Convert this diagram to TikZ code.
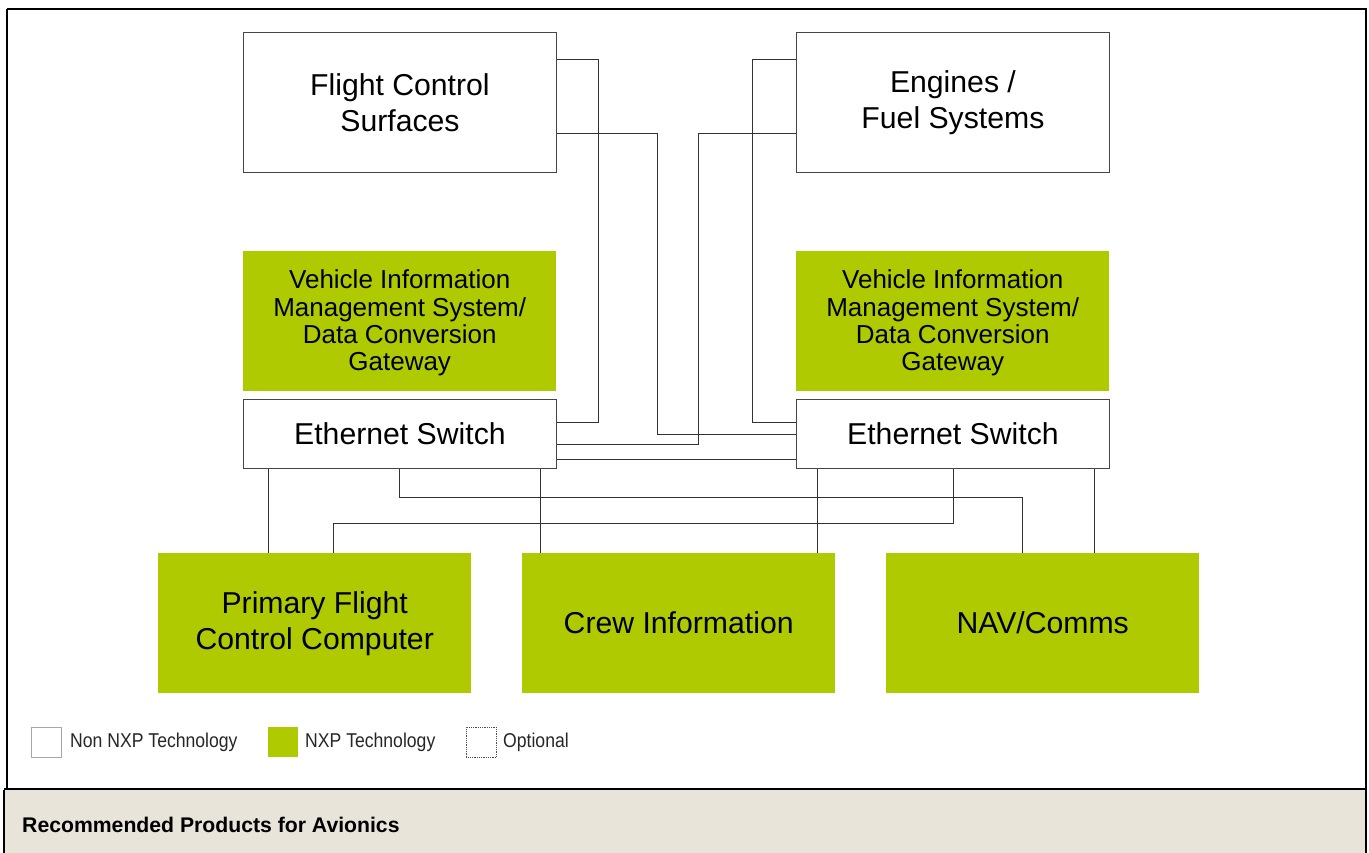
\documentclass[tikz,border=0pt]{standalone}
\usepackage{fontspec}
\setmainfont{Liberation Sans}
\newfontfamily\narrowfont{Liberation Sans}[FakeStretch=0.88]
\usetikzlibrary{calc}
\definecolor{nxpgreen}{RGB}{175,202,0}
\definecolor{barbeige}{RGB}{232,228,218}
\definecolor{boxline}{RGB}{70,70,70}
\definecolor{wireline}{RGB}{50,50,50}
\tikzset{
  whitebox/.style={draw=boxline, line width=0.9pt, fill=white, anchor=north west, minimum width=313pt, minimum height=140pt, inner sep=0pt, align=center, font=\fontsize{30.2}{36}\selectfont},
  greenbox/.style={fill=nxpgreen, anchor=north west, minimum width=313pt, minimum height=140pt, inner sep=0pt, align=center, font=\fontsize{30.2}{36}\selectfont},
  vimsbox/.style={greenbox},
  vimstext/.style={inner sep=0pt, align=center, font=\fontsize{26}{27.3}\selectfont},
  switchbox/.style={whitebox, minimum height=69pt},
  wire/.style={draw=wireline, line width=0.9pt},
  legsq/.style={anchor=north west, minimum width=30pt, minimum height=30pt, inner sep=0pt},
  legtext/.style={anchor=west, inner sep=0pt, font=\narrowfont\fontsize{20}{22}\selectfont, text=black!85},
  frameline/.style={draw=black, line width=2pt}
}
\begin{document}
\begin{tikzpicture}[x=1pt,y=-1pt]
\useasboundingbox (0,0) rectangle (1369,853);
% bottom bar
\fill[barbeige] (4,790) rectangle (1367,853);
\draw[frameline] (7,9) -- (1366,9) -- (1366,853);
\draw[frameline] (7,9) -- (7,789);
\draw[frameline] (4,789) -- (1366,789);
\draw[draw=black, line width=1.5pt] (4,790) -- (4,853);
\node[anchor=west, inner sep=0pt, font=\bfseries\fontsize{21.2}{24}\selectfont] (title) at (22,825) {Recommended Products for Avionics};

% top boxes
\node[whitebox] (fcs) at (243,32) {Flight Control\\Surfaces};
\node[whitebox] (eng) at (796,32) {Engines /\\Fuel Systems};
% VIMS
\node[vimsbox] (viml) at (243,251) {};
\node[vimstext] (vimltext) at ($(viml.center)+(0,2)$) {Vehicle Information\\Management System/\\Data Conversion\\Gateway};
\node[vimsbox] (vimr) at (796,251) {};
\node[vimstext] (vimrtext) at ($(vimr.center)+(0,2)$) {Vehicle Information\\Management System/\\Data Conversion\\Gateway};
% switches
\node[switchbox] (esl) at (243,399) {Ethernet Switch};
\node[switchbox] (esr) at (796,399) {Ethernet Switch};
% bottom
\node[greenbox] (pfcc) at (158,553) {Primary Flight\\Control Computer};
\node[greenbox] (crew) at (522,553) {Crew Information};
\node[greenbox] (nav) at (886,553) {NAV/Comms};

% upper connectors
\draw[wire] ($(fcs.north east)+(0,27)$) -- ++(42,0) |- ($(esl.north east)+(0,23)$);
\draw[wire] ($(fcs.north east)+(0,101)$) -- ++(101,0) |- ($(esr.north west)+(0,35)$);
\draw[wire] ($(eng.north west)+(0,27)$) -- ++(-44,0) |- ($(esr.north west)+(0,23)$);
\draw[wire] ($(eng.north west)+(0,101)$) -- ++(-98,0) |- ($(esl.north east)+(0,45)$);
\draw[wire] ($(esl.north east)+(0,60)$) -- ($(esr.north west)+(0,60)$);

% lower connectors
\draw[wire] ($(esl.south west)+(25,0)$) -- ($(pfcc.north west)+(110,0)$);
\draw[wire] ($(esl.south west)+(156,0)$) -- ++(0,29) -| ($(nav.north west)+(136,0)$);
\draw[wire] ($(esl.south west)+(297,0)$) -- ($(crew.north west)+(18,0)$);
\draw[wire] ($(esr.south west)+(157,0)$) -- ++(0,55) -| ($(pfcc.north west)+(175,0)$);
\draw[wire] ($(esr.south west)+(21,0)$) -- ($(crew.north west)+(295,0)$);
\draw[wire] ($(esr.south west)+(298,0)$) -- ($(nav.north west)+(208,0)$);

% legend
\node[legsq, draw=black!35, line width=0.8pt] (l1) at (31,727) {};
\node[legtext] (t1) at (70,742) {Non NXP Technology};
\node[legsq, fill=nxpgreen] (l2) at (268,727) {};
\node[legtext] (t2) at (305,742) {NXP Technology};
\node[legsq, draw=black!70, densely dotted, line width=0.8pt] (l3) at (466,727) {};
\node[legtext] (t3) at (503,742) {Optional};
\end{tikzpicture}
\end{document}
